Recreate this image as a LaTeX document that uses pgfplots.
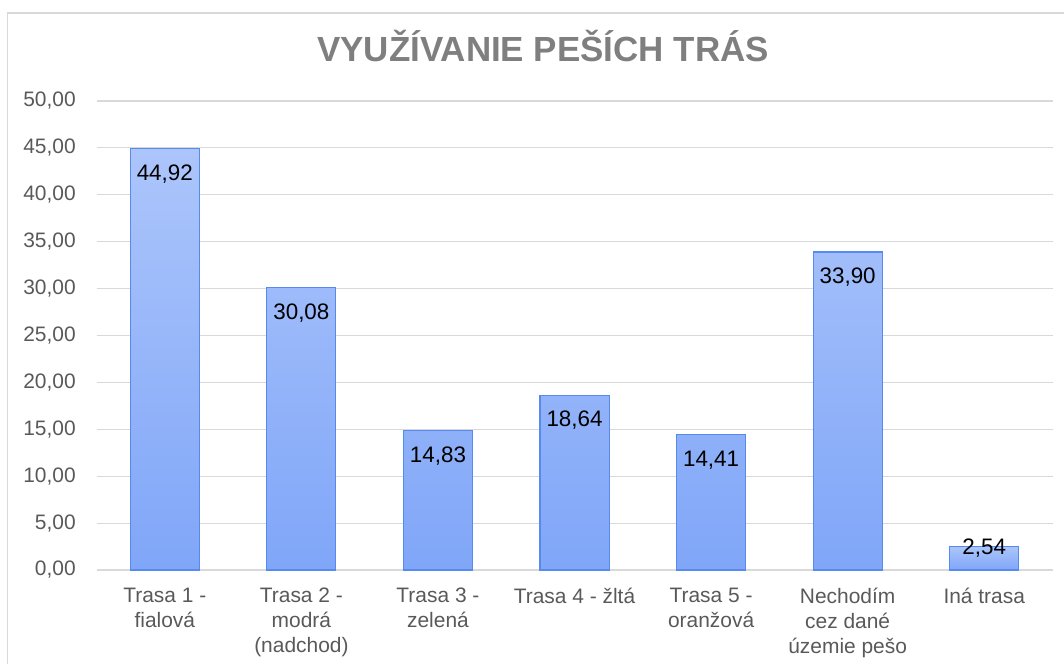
\documentclass[border=0pt]{standalone}
\usepackage{fontspec}
\setmainfont{Liberation Sans}
\usepackage{pgfplots}
\pgfplotsset{compat=1.18}
\definecolor{gridc}{RGB}{217,217,217}
\definecolor{tickc}{RGB}{89,89,89}
\definecolor{titlec}{RGB}{127,127,127}
\definecolor{barborder}{RGB}{86,138,240}
\definecolor{bartop}{RGB}{172,197,251}
\definecolor{barbot}{RGB}{128,166,248}
\pgfkeys{/pgf/number format/.cd, fixed, fixed zerofill, precision=2, use comma, assume math mode=true}
\begin{document}
\begin{tikzpicture}
\path[use as bounding box] (0,0) rectangle (798pt,498pt);
\draw[gridc, line width=0.8pt] (5.6pt,-5pt) -- (5.6pt,488.25pt) -- (805pt,488.25pt);
\node[anchor=base, text=titlec, font={\fontsize{26.2}{30}\selectfont\bfseries}] at (407.25pt,451.5pt) {VYUŽÍVANIE PEŠÍCH TRÁS};
\begin{axis}[
  at={(72.4pt,70.5pt)}, anchor=south west,
  width=717pt, height=351.75pt, scale only axis,
  xmin=-0.5, xmax=6.5, ymin=0, ymax=50,
  ytick distance=5,
  xtick={0,1,2,3,4,5,6},
  xticklabels={{Trasa 1 -\\fialová},{Trasa 2 -\\modrá\\(nadchod)},{Trasa 3 -\\zelená},{Trasa 4 - žltá},{Trasa 5 -\\oranžová},{Nechodím\\cez dané\\územie pešo},{Iná trasa}},
  axis line style={draw=none},
  major tick length=0pt,
  tick style={draw=none},
  ymajorgrids, grid style={gridc, line width=0.8pt},
  yticklabel style={text=tickc, font={\fontsize{15.7}{18.75}\selectfont}, inner sep=0pt, xshift=-15.4pt, /pgf/number format/.cd, fixed, fixed zerofill, precision=2, use comma, assume math mode=true},
  xticklabel style={text=tickc, font={\fontsize{15.7}{18.75}\selectfont}, align=center, inner sep=0pt, anchor=north, yshift=-13pt},
  ybar, bar width=51.75pt,
  clip=false,
]
\addplot[bar shift=0pt, draw=barborder, line width=0.8pt, top color=bartop, bottom color=barbot,
  nodes near coords, every node near coord/.append style={anchor=center, yshift=-18.75pt, text=black, font={\fontsize{16.8}{19}\selectfont}}]
  coordinates {(0,44.92) (1,30.08) (2,14.83) (3,18.64) (4,14.41) (5,33.90)};
\addplot[bar shift=0pt, draw=barborder, line width=0.8pt, top color=bartop, bottom color=barbot,
  nodes near coords, every node near coord/.append style={anchor=center, yshift=-1.5pt, text=black, font={\fontsize{16.8}{19}\selectfont}}]
  coordinates {(6,2.54)};
\end{axis}
\end{tikzpicture}
\end{document}
